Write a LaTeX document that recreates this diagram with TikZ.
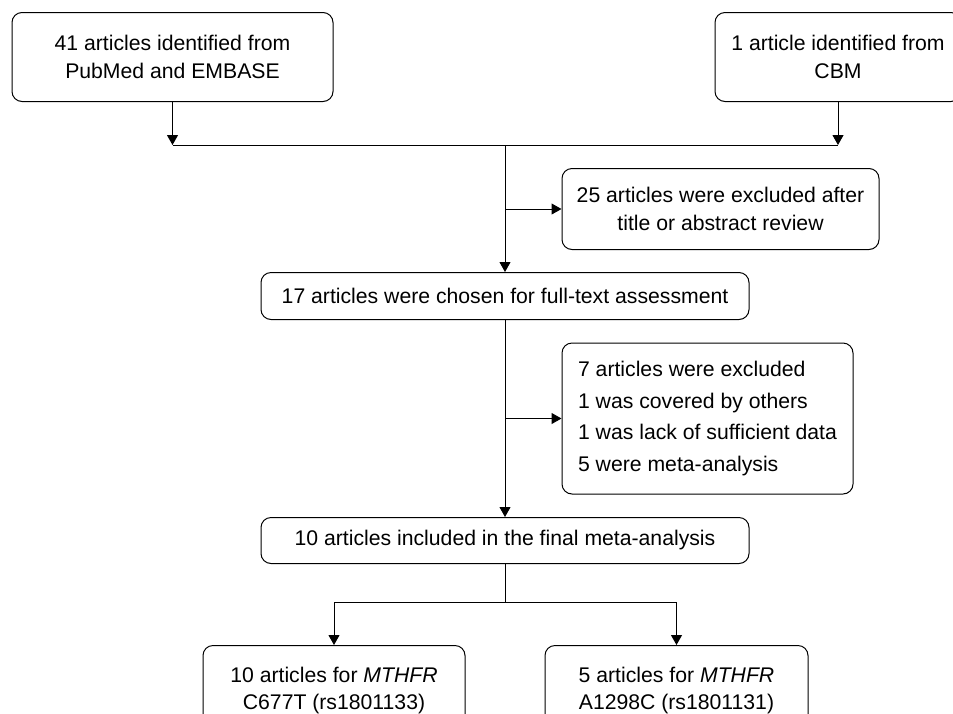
\documentclass[tikz,border=0pt]{standalone}
\usepackage{fontspec}
\setmainfont{Liberation Sans}
\usetikzlibrary{arrows.meta}
\begin{document}
\begin{tikzpicture}[x=1pt,y=-1pt,
  box/.style={draw, rounded corners=10pt, line width=1pt, align=center, inner sep=0pt,
    font=\fontsize{21.2}{27.5}\selectfont},
  arr/.style={-{Triangle[length=10pt,width=11pt]}, line width=1pt},
  ln/.style={line width=1pt}]
\useasboundingbox (0,0) rectangle (953,713);
\clip (0,0) rectangle (953,713);

\node[box, minimum width=321pt, minimum height=89pt] (A) at (172.5,57) {41 articles identified from\\PubMed and EMBASE};
\node[box, minimum width=246pt, minimum height=89pt] (B) at (838,57) {1 article identified from\\CBM};
\coordinate (sp) at (505,145);
\node[box, minimum width=317pt, minimum height=81pt] (C25) at (720.5,209) {25 articles were excluded after\\title or abstract review};
\node[box, minimum width=488pt, minimum height=47pt] (C17) at (505,296) {17 articles were chosen for full-text assessment};
\node[box, minimum width=291pt, minimum height=151pt, align=left, font=\fontsize{21.2}{31.5}\selectfont] (C7) at (707.5,418.5) {7 articles were excluded\\1 was covered by others\\1 was lack of sufficient data\\5 were meta-analysis};
\node[box, minimum width=488pt, minimum height=46pt] (F) at (505,540.5) {10 articles included in the final meta-analysis};
\coordinate (sp2) at (505,602);
\node[box, minimum width=262pt, minimum height=90pt] (L) at (334,690.5) {10 articles for \textit{MTHFR}\\C677T (rs1801133)};
\node[box, minimum width=263pt, minimum height=90pt] (R) at (676.5,690.5) {5 articles for \textit{MTHFR}\\A1298C (rs1801131)};

\draw[arr] (A.south) -- (A.south |- sp);
\draw[arr] (B.south) -- (B.south |- sp);
\draw[ln] (A.south |- sp) -- (B.south |- sp);
\draw[arr] (sp) -- (C17.north);
\draw[arr] (sp |- C25.west) -- (C25.west);
\draw[arr] (C17.south) -- (F.north);
\draw[arr] (C17.south |- C7.west) -- (C7.west);
\draw[ln] (F.south) -- (sp2);
\draw[ln] (L.north |- sp2) -- (R.north |- sp2);
\draw[arr] (L.north |- sp2) -- (L.north);
\draw[arr] (R.north |- sp2) -- (R.north);
\end{tikzpicture}
\end{document}
